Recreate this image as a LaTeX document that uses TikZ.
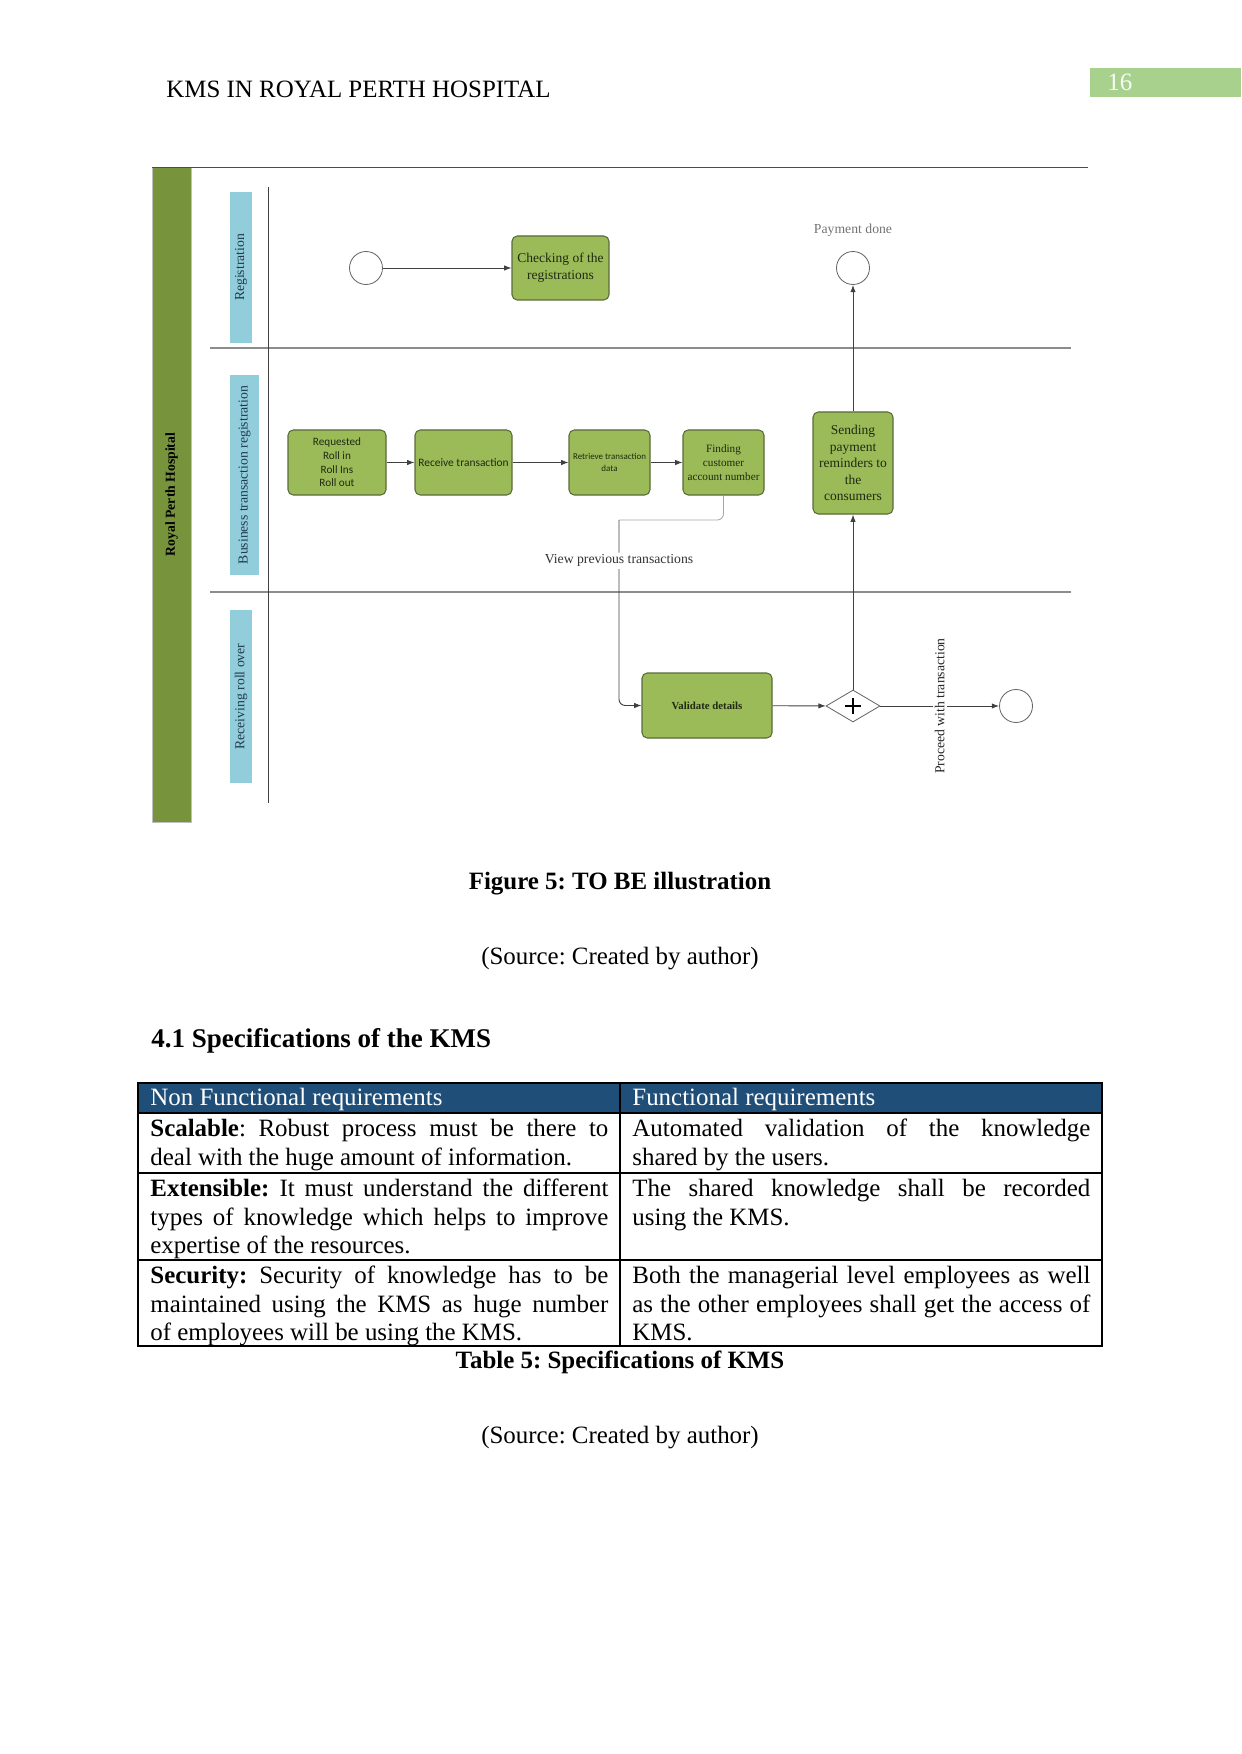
\documentclass[tikz,border=0pt]{standalone}
\usepackage{fontspec}
\setmainfont{Liberation Serif}
\newfontfamily\carlito{Carlito}
\usepackage{tikz}
\usetikzlibrary{arrows.meta,shapes.geometric}
\usepackage{xcolor}
\definecolor{barolive}{HTML}{77933C}
\definecolor{taskgreen}{HTML}{9BBB59}
\definecolor{taskedge}{HTML}{5A6B3A}
\definecolor{tasktext}{HTML}{1F2A10}
\definecolor{lanecyan}{HTML}{92CDDC}
\definecolor{lanetext}{HTML}{1F3A4D}
\definecolor{pagegreen}{HTML}{A9D18E}
\definecolor{headblue}{HTML}{1F4E79}
\newlength\pxu
\setlength\pxu{0.016922cm}
\newcommand\cellstrut{\rule{0pt}{10.7pt}}
\frenchspacing

\begin{document}
\begin{tikzpicture}[x=0.016922cm,y=-0.016922cm,
  task/.style={draw=taskedge,fill=taskgreen,rounded corners=2.5pt,align=center,text=tasktext,inner sep=1pt,line width=0.5pt},
  event/.style={circle,draw=black!60,fill=white,minimum size=33*\pxu,inner sep=0pt},
  lane/.style={rotate=90,fill=lanecyan,text=lanetext,inner sep=0pt,font=\fontsize{6.6}{8}\selectfont},
  flow/.style={draw=black!75,line width=0.45pt,-{Latex[length=3.5pt,width=2.6pt]}},
  sepline/.style={draw=black!45,line width=0.5pt},
  cell/.style={anchor=north west,inner sep=0pt,text width=7.75cm,align=justify,font=\fontsize{12}{13.8}\selectfont},
  pagetext/.style={font=\fontsize{12}{14}\selectfont,inner sep=0pt}]
\useasboundingbox (0,0) rectangle (1241,1754);
\node[pagetext,anchor=base west] (runhead) at (166,98) {KMS IN ROYAL PERTH HOSPITAL};
\node[fill=pagegreen,minimum width=151*\pxu,minimum height=29*\pxu,inner sep=0pt] (pagebox) at (1165.5,82.5) {};
\node[pagetext,anchor=base west,text=white!92!pagegreen] (pageno) at (1107,91) {16};

\node[fill=barolive,draw=black!25,rotate=90,minimum width=655*\pxu,minimum height=39*\pxu,inner sep=0pt,font=\bfseries\fontsize{6.6}{8}\selectfont] (pool) at (171.5,494.5) {Royal Perth Hospital};
\draw[black!70] (152,167) -- (1088,167);
\draw[sepline] (210,348) -- (1071,348);
\draw[sepline] (210,592) -- (1071,592);
\draw[black!75] (268,187) -- (268,803);
\node[lane,minimum width=151*\pxu,minimum height=22*\pxu] (lreg) at (241,267.5) {Registration};
\node[lane,minimum width=200*\pxu,minimum height=29*\pxu] (lbus) at (244.5,475) {Business transaction registration};
\node[lane,minimum width=173*\pxu,minimum height=22*\pxu] (lrcv) at (241,696.5) {Receiving roll over};

\node[event] (start) at (366,268) {};
\node[event] (done) at (853,268) {};
\node[event] (finish) at (1016,706) {};
\node[font=\fontsize{6.6}{8}\selectfont,text=black!55] (donelbl) at (853,230) {Payment done};
\node[task,minimum width=97*\pxu,minimum height=64*\pxu,font=\fontsize{6.5}{8}\selectfont] (check) at (560.5,268) {Checking of the\\registrations};
\node[task,minimum width=98*\pxu,minimum height=65*\pxu,font=\carlito\fontsize{5.4}{6.6}\selectfont] (request) at (337,462.5) {Requested\\Roll in\\Roll Ins\\Roll out};
\node[task,minimum width=97*\pxu,minimum height=65*\pxu,font=\carlito\fontsize{5.5}{6.6}\selectfont] (receive) at (463.5,462.5) {Receive transaction};
\node[task,minimum width=81*\pxu,minimum height=65*\pxu,font=\carlito\fontsize{4.3}{5.6}\selectfont] (retrieve) at (609.5,462.5) {Retrieve transaction\\data};
\node[task,minimum width=81*\pxu,minimum height=65*\pxu,font=\fontsize{5.4}{6.7}\selectfont] (finding) at (723.5,462.5) {Finding\\customer\\account number};
\node[task,minimum width=80*\pxu,minimum height=102*\pxu,font=\fontsize{6.5}{8}\selectfont] (sending) at (853,463) {Sending\\payment\\reminders to\\the\\consumers};
\node[task,minimum width=130*\pxu,minimum height=65*\pxu,font=\bfseries\fontsize{5.2}{6.4}\selectfont] (validate) at (707,705.5) {Validate details};
\node[diamond,draw=black!60,fill=white,minimum width=54*\pxu,minimum height=32*\pxu,inner sep=0pt] (gate) at (853,706) {};
\draw[line width=0.9pt] (gate.center) ++(-8,0) -- ++(16,0) (gate.center) ++(0,-8) -- ++(0,16);

\draw[flow] (start) -- (check);
\draw[flow] (request) -- (receive);
\draw[flow] (receive) -- (retrieve);
\draw[flow] (retrieve) -- (finding);
\coordinate (viewbend) at (619,520);
\draw[black!35,rounded corners=3pt] (finding.south) |- (viewbend);
\draw[flow,rounded corners=3pt] (viewbend) -- node[pos=0.22,fill=white,inner sep=1pt,font=\fontsize{6.6}{8}\selectfont,text=black!80] (viewlbl) {View previous transactions} (viewbend |- validate.west) -- (validate.west);
\draw[flow] (validate) -- (gate);
\draw[flow] (gate) -- node[rotate=90,fill=white,inner sep=1pt,font=\fontsize{6.6}{8}\selectfont,text=black!85] (proceedlbl) {Proceed with transaction} (finish);
\draw[flow] (gate) -- (sending);
\draw[flow] (sending) -- (done);

\node[pagetext,font=\bfseries\fontsize{12}{14}\selectfont,anchor=base] (figcap) at (620,889) {Figure 5: TO BE illustration};
\node[pagetext,anchor=base] (figsrc) at (620,964) {(Source: Created by author)};
\node[pagetext,font=\bfseries\fontsize{13}{15}\selectfont,anchor=base west] (sechead) at (151,1047) {4.1 Specifications of the KMS};

\fill[headblue] (138,1083) rectangle (1102,1113);
\draw[line width=0.6pt] (138,1083) rectangle (1102,1346);
\draw[line width=0.6pt] (620,1083) -- (620,1346);
\foreach \yy in {1113,1173,1260} \draw[line width=0.6pt] (138,\yy) -- (1102,\yy);
\node[cell,text=white] (head1) at (150,1083) {\cellstrut Non Functional requirements};
\node[cell,text=white] (head2) at (632,1083) {\cellstrut Functional requirements};
\node[cell] (nf1) at (150,1114) {\cellstrut\textbf{Scalable}: Robust process must be there to\linebreak deal with the huge amount of information.};
\node[cell] (fr1) at (632,1114) {\cellstrut Automated validation of the knowledge\linebreak shared by the users.};
\node[cell] (nf2) at (150,1174) {\cellstrut\textbf{Extensible:} It must understand the different\linebreak types of knowledge which helps to improve\linebreak expertise of the resources.};
\node[cell] (fr2) at (632,1174) {\cellstrut The shared knowledge shall be recorded\linebreak using the KMS.};
\node[cell] (nf3) at (150,1261) {\cellstrut\textbf{Security:} Security of knowledge has to be\linebreak maintained using the KMS as huge number\linebreak of employees will be using the KMS.};
\node[cell] (fr3) at (632,1261) {\cellstrut Both the managerial level employees as well\linebreak as the other employees shall get the access of\linebreak KMS.};
\node[pagetext,font=\bfseries\fontsize{12}{14}\selectfont,anchor=base] (tabcap) at (620,1368) {Table 5: Specifications of KMS};
\node[pagetext,anchor=base] (tabsrc) at (620,1443) {(Source: Created by author)};
\end{tikzpicture}
\end{document}
